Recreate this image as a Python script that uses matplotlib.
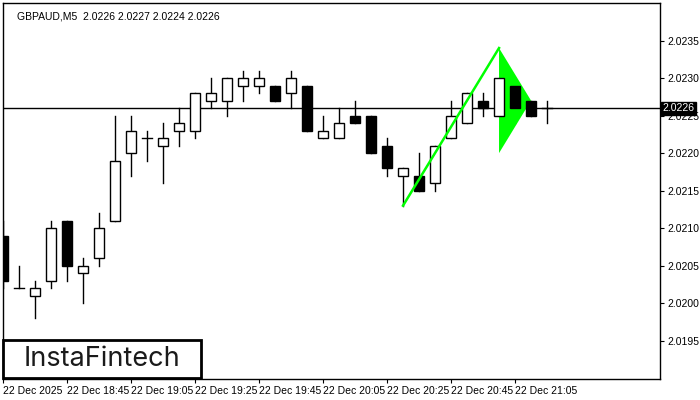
import numpy as np
import matplotlib.pyplot as plt
from matplotlib.patches import Rectangle, Polygon

# GBPAUD M5 candles, 22 Dec 2025 18:25 .. 21:15
opens  = [2.0209, 2.0202, 2.0201, 2.0203, 2.0211, 2.0204, 2.0206, 2.0211, 2.0220, 2.0222,
          2.0221, 2.0223, 2.0223, 2.0227, 2.0227, 2.0229, 2.0229, 2.0229, 2.0228, 2.0229,
          2.0222, 2.0222, 2.0225, 2.0225, 2.0221, 2.0217, 2.0217, 2.0216, 2.0222, 2.0224,
          2.0227, 2.0225, 2.0229, 2.0227, 2.0226]
highs  = [2.0211, 2.0205, 2.0203, 2.0211, 2.0211, 2.0206, 2.0212, 2.0225, 2.0225, 2.0223,
          2.0224, 2.0226, 2.0228, 2.0230, 2.0230, 2.0231, 2.0231, 2.0229, 2.0231, 2.0229,
          2.0225, 2.0226, 2.0227, 2.0225, 2.0222, 2.0218, 2.0220, 2.0221, 2.0227, 2.0228,
          2.0228, 2.0230, 2.0230, 2.0227, 2.0227]
lows   = [2.0202, 2.0202, 2.0198, 2.0202, 2.0203, 2.0200, 2.0205, 2.0211, 2.0217, 2.0219,
          2.0216, 2.0221, 2.0222, 2.0226, 2.0225, 2.0227, 2.0228, 2.0227, 2.0226, 2.0223,
          2.0222, 2.0222, 2.0224, 2.0220, 2.0217, 2.0213, 2.0215, 2.0215, 2.0222, 2.0224,
          2.0225, 2.0225, 2.0224, 2.0225, 2.0224]
closes = [2.0203, 2.0202, 2.0202, 2.0210, 2.0205, 2.0205, 2.0210, 2.0219, 2.0223, 2.0222,
          2.0222, 2.0224, 2.0228, 2.0228, 2.0230, 2.0230, 2.0230, 2.0227, 2.0230, 2.0223,
          2.0223, 2.0224, 2.0224, 2.0220, 2.0218, 2.0218, 2.0215, 2.0221, 2.0225, 2.0228,
          2.0226, 2.0230, 2.0226, 2.0225, 2.0226]

tick_pos = [0, 4, 8, 12, 16, 20, 24, 28, 32]
tick_labels = ['22 Dec 2025', '22 Dec 18:45', '22 Dec 19:05', '22 Dec 19:25', '22 Dec 19:45',
               '22 Dec 20:05', '22 Dec 20:25', '22 Dec 20:45', '22 Dec 21:05']
price_ticks = [2.0195, 2.0200, 2.0205, 2.0210, 2.0215, 2.0220, 2.0225, 2.0230, 2.0235]

# pennant: pole from bar 25 to bar 31, flag triangle to bar 33
pole_x = [25, 31]
pole_y = [2.0213, 2.0234]
flag_x = [31, 33, 31]
flag_y = [2.0234, 2.0227, 2.0220]

last_price = 2.0226

plt.rcParams['font.family'] = 'Liberation Sans'

fig = plt.figure(figsize=(7, 4), dpi=100)
ax = fig.add_axes([3/700, 21/400, 657/700, 376/400])

w = 0.66
for i, (o, h, l, c) in enumerate(zip(opens, highs, lows, closes)):
    ax.plot([i, i], [l, h], color='black', lw=1, zorder=2)
    lo, hi = min(o, c), max(o, c)
    face = 'white' if c >= o else 'black'
    if hi - lo < 1e-9:
        ax.plot([i - w/2, i + w/2], [o, o], color='black', lw=1, zorder=3)
    else:
        ax.add_patch(Rectangle((i - w/2, lo), w, hi - lo, facecolor=face,
                               edgecolor='black', lw=1, zorder=3))

ax.axhline(last_price, color='black', lw=1, zorder=1)

ax.add_patch(Polygon(list(zip(flag_x, flag_y)), closed=True, facecolor='#00ff00',
                     edgecolor='none', zorder=2.5))
ax.plot(pole_x, pole_y, color='#00ff00', lw=1.8, zorder=4)

ax.set_xlim(0, 41.06)
ax.set_ylim(2.01899, 2.02400)

ax.set_xticks(tick_pos)
ax.set_xticklabels(tick_labels, ha='left', fontsize=7.5)
ax.tick_params(axis='x', length=3, pad=2, direction='out')
ax.yaxis.tick_right()
ax.set_yticks(price_ticks)
ax.set_yticklabels(['%.4f' % p for p in price_ticks], fontsize=7.5)
ax.tick_params(axis='y', length=3, pad=2, direction='out')
for s in ax.spines.values():
    s.set_color('black')
    s.set_linewidth(1)

ax.text(0.022, 0.978, 'GBPAUD,M5  2.0226 2.0227 2.0224 2.0226', transform=ax.transAxes,
        fontsize=7.5, va='top', ha='left')

ax.annotate('2.0226', xy=(1.0, last_price), xycoords=('axes fraction', 'data'),
            xytext=(2, 0), textcoords='offset points', fontsize=7.5, color='white',
            va='center', ha='left',
            bbox=dict(boxstyle='square,pad=0.15', facecolor='black', edgecolor='black'),
            annotation_clip=False)

logo = Rectangle((3/700, 22/400), 198/700, 38/400, transform=fig.transFigure,
                 facecolor='white', edgecolor='black', lw=2, zorder=10)
fig.add_artist(logo)
fig.text(102/700, 41/400, 'InstaFintech', fontsize=19.5, family='Inter',
         color='#1a1a1a', ha='center', va='center', zorder=11)

plt.savefig('out.png', dpi=100)
